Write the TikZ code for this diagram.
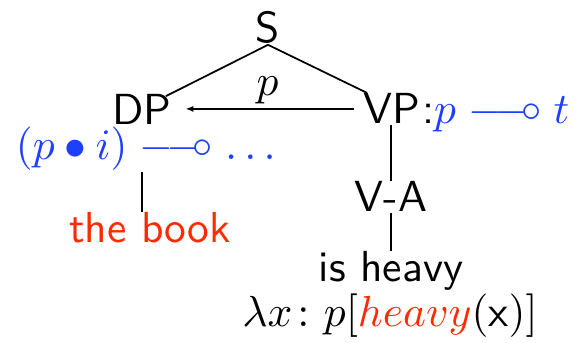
\documentclass[tikz,border=0pt]{standalone}
\usepackage{amsmath,amssymb}
\usetikzlibrary{positioning,arrows.meta}
\definecolor{typeblue}{RGB}{31,63,255}
\definecolor{semred}{RGB}{255,42,0}
\newcommand{\lolli}{\mathrel{\relbar\joinrel\relbar\mkern-3mu\mathrel{\vcenter{\hbox{\fontsize{9}{10}\selectfont$\circ$}}}}}
\tikzset{every picture/.style={line width=0.4pt},
  word/.style={inner sep=0pt,anchor=base,font=\sffamily},
  typelabel/.style={inner sep=0pt,anchor=base west,text=typeblue}}

\begin{document}
\begin{tikzpicture}[x=0.23pt,y=0.23pt,yscale=-1]
\useasboundingbox (0,0) rectangle (575,343);

% tree nodes
\node [word] (s) at (268,43) {S};
\node [word] (dp) at (142,125) {DP};
\node [word] (vp) at (392,124) {VP};
\node [typelabel] (vptype) at (vp.base east) {\sffamily\textcolor{black}{:}$p\lolli t$};
\node [typelabel] (dptype) at (15,160) {$(p\bullet i)\lolli\ldots$};
\node [word,text=semred] (book) at (150,243) {the book};
\node [word] (va) at (391,212) {V-A};
\node [word] (heavy) at (391,282) {is heavy};
\node [word] (sem) at (390,327) {$\lambda x\colon p[\textcolor{semred}{heavy}(\text{x})]$};

% branches
\draw (s.south) -- ([xshift=-1.5pt,yshift=0.5pt]dp.north east);
\draw (s.south) -- ([xshift=1pt]vp.north west);
\draw [-{Latex[length=1.8pt,width=1.4pt]},shorten <=2pt,shorten >=3pt] (vp.west) -- (vp.west -| dp.east)
  node [midway,above=1pt,inner sep=0pt] (plabel) {$p$};
\draw (vp.south -| va.north) -- (va.north);
\draw (va.south) -- (heavy.north);
\draw (dp.south |- dptype.south) -- (book.north -| dp.south);
\end{tikzpicture}
\end{document}
